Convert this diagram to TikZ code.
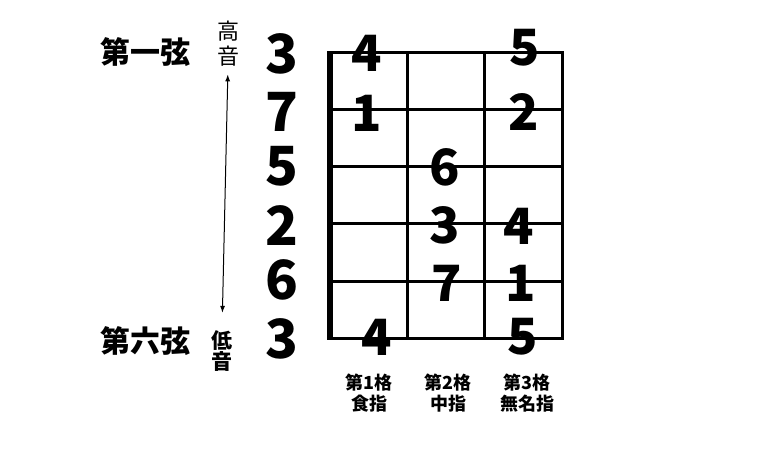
\documentclass[tikz,border=0pt]{standalone}
\usepackage{fontspec}
\setmainfont{Noto Sans}
\newfontfamily\jp{Noto Sans CJK JP}
\usetikzlibrary{arrows.meta}

\begin{document}
\begin{tikzpicture}[x=1pt,y=-1pt,
tuning/.style={%
font=\jp\fontsize{54}{54}\selectfont\bfseries,
inner sep=0pt,
},
note/.style={%
font=\jp\fontsize{50}{50}\selectfont\bfseries,
inner sep=0pt,
},
strg/.style={%
font=\jp\fontsize{30}{30}\selectfont\bfseries,
inner sep=0pt,
},
pitch/.style={%
font=\jp\fontsize{22}{22}\selectfont,
inner sep=0pt,
},
finger/.style={%
font=\jp\fontsize{18}{21}\selectfont\bfseries,
align=center,
inner sep=0pt,
},
fret/.style={%
line width=3pt,
line cap=rect,
},
]
\useasboundingbox (0,0) rectangle (770,462);
%% Fretboard
\foreach \y in {53,110,...,338}{%
\draw[fret] (330,\y)--(562,\y);
}
\foreach \x in {407,484,562}{%
\draw[fret] (\x,53)--(\x,338);
}
\draw[line width=6pt] (330,51.5)--(330,339.5);
%% Open strings
\foreach \n/\y [count=\i] in {3/54,7/112,5/166,2/226,6/280,3/339}{%
\node[tuning]at(282,\y)(t\i){\n};
}
%% Notes
\node[note]at(367,53)(n1){4};
\node[note]at(525,48)(n2){5};
\node[note]at(367,113)(n3){1};
\node[note]at(524,112)(n4){2};
\node[note]at(445,167)(n5){6};
\node[note]at(445,225)(n6){3};
\node[note]at(519,226)(n7){4};
\node[note]at(447,283)(n8){7};
\node[note]at(521,283)(n9){1};
\node[note]at(377,337)(n10){4};
\node[note]at(523,337)(n11){5};
%% Strings
\node[strg]at(145,52)(s1){第一弦};
\node[strg]at(145,341)(s6){第六弦};
\node[pitch]at(228,31)(hi1){高};
\node[pitch]at(228,56)(hi2){音};
\node[pitch,font=\jp\fontsize{21}{21}\selectfont\bfseries]at(222,341)(lo1){低};
\node[pitch,font=\jp\fontsize{21}{21}\selectfont\bfseries]at(222,362)(lo2){音};
\draw[{Latex[length=7pt,width=5pt]}-{Latex[length=7pt,width=5pt]},line width=1pt,
shorten <=8pt,shorten >=18pt] (hi2.south)--(lo1.north);
%% Frets
\node[finger]at(369,393)(f1){第1格\\食指};
\node[finger]at(448,393)(f2){第2格\\中指};
\node[finger]at(527,393)(f3){第3格\\無名指};
\end{tikzpicture}
\end{document}
